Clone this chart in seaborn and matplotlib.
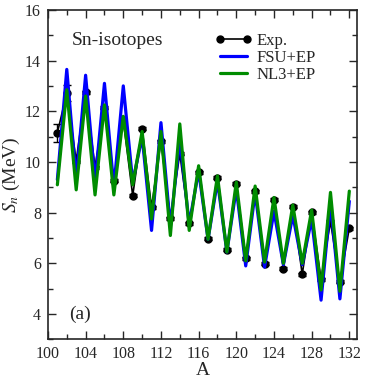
import numpy as np
import pandas as pd
import matplotlib
matplotlib.use('Agg')
import matplotlib.pyplot as plt
import seaborn as sns
from matplotlib.lines import Line2D
from matplotlib.ticker import MultipleLocator

# Sn isotopes, mass numbers
mass = list(range(101, 133))

# experimental one-neutron separation energies (MeV)
exp_sn = [11.15, 12.72, 10.04, 12.75, 9.80, 12.13, 9.25, 11.65, 8.67, 11.31,
          8.21, 10.82, 7.78, 10.33, 7.58, 9.60, 6.97, 9.37, 6.54, 9.15,
          6.21, 8.84, 5.99, 8.51, 5.79, 8.24, 5.57, 8.02, 5.37, 7.65,
          5.27, 7.39]
exp_err = [0.36, 0.30, 0.10, 0.06, 0.06, 0.06, 0.06, 0.06, 0.06, 0.06,
           0.06, 0.06, 0.06, 0.06, 0.06, 0.06, 0.06, 0.06, 0.06, 0.06,
           0.06, 0.06, 0.06, 0.06, 0.06, 0.06, 0.06, 0.06, 0.06, 0.06,
           0.06, 0.06]

fsu_sn = [9.30, 13.65, 9.30, 13.42, 9.20, 13.10, 9.00, 13.00, 9.20, 11.00,
          7.30, 11.55, 7.45, 10.90, 7.55, 9.65, 6.95, 9.25, 6.45, 8.95,
          5.90, 8.80, 5.85, 8.05, 5.95, 7.90, 5.95, 7.75, 4.55, 8.40,
          4.60, 8.45]
nl3_sn = [9.10, 12.85, 8.90, 12.60, 8.70, 12.25, 8.70, 11.80, 9.10, 11.20,
          7.75, 11.20, 7.10, 11.50, 7.30, 9.85, 6.95, 9.45, 6.45, 9.20,
          6.10, 9.05, 6.05, 8.60, 6.00, 8.30, 6.00, 8.10, 4.95, 8.80,
          4.90, 8.85]

colors = {'FSU+EP': '#0000ff', 'NL3+EP': '#008c00'}

sns.set_style('ticks')
plt.rcParams['font.family'] = ['Liberation Serif', 'DejaVu Serif']
plt.rcParams['mathtext.fontset'] = 'stix'

df = pd.DataFrame({
    'A': mass * 2,
    'Sn': fsu_sn + nl3_sn,
    'model': ['FSU+EP'] * len(mass) + ['NL3+EP'] * len(mass),
})

fig = plt.figure(figsize=(3.66, 3.78), dpi=100)
ax = fig.add_axes([0.131, 0.102, 0.844, 0.872])

ax.errorbar(mass, exp_sn, yerr=exp_err, color='black', lw=1.2,
            marker='o', ms=5, capsize=3, elinewidth=1.0, capthick=1.0,
            zorder=2)
sns.lineplot(data=df, x='A', y='Sn', hue='model', palette=colors,
             lw=2.3, ax=ax, zorder=3, legend=False)

ax.set_xlim(100, 132.8)
ax.set_ylim(3, 16)
ax.xaxis.set_major_locator(MultipleLocator(4))
ax.xaxis.set_minor_locator(MultipleLocator(2))
ax.yaxis.set_major_locator(MultipleLocator(2))
ax.yaxis.set_minor_locator(MultipleLocator(1))
ax.tick_params(which='both', direction='in', top=True, right=True,
               labelsize=11.5, pad=5)
ax.tick_params(which='major', length=6, width=1)
ax.tick_params(which='minor', length=3.5, width=1)
for s in ax.spines.values():
    s.set_linewidth(1.2)

ax.set_xlabel('A', fontsize=14, labelpad=0)
ax.set_ylabel('$S_n$ (MeV)', fontsize=14, labelpad=2)

ax.text(102.5, 14.8, 'Sn-isotopes', fontsize=14, va='center')
ax.text(102.3, 4.0, '(a)', fontsize=14, va='center')

handles = [
    Line2D([], [], color='black', lw=1.2, marker='o', ms=5),
    Line2D([], [], color=colors['FSU+EP'], lw=2.3),
    Line2D([], [], color=colors['NL3+EP'], lw=2.3),
]
ax.legend(handles, ['Exp.', 'FSU+EP', 'NL3+EP'], loc='upper right',
          bbox_to_anchor=(0.905, 0.965), frameon=False, fontsize=12,
          numpoints=2, handlelength=2.2, handletextpad=0.3,
          labelspacing=0.05, borderaxespad=0.3)

fig.savefig('out.png', dpi=100)
